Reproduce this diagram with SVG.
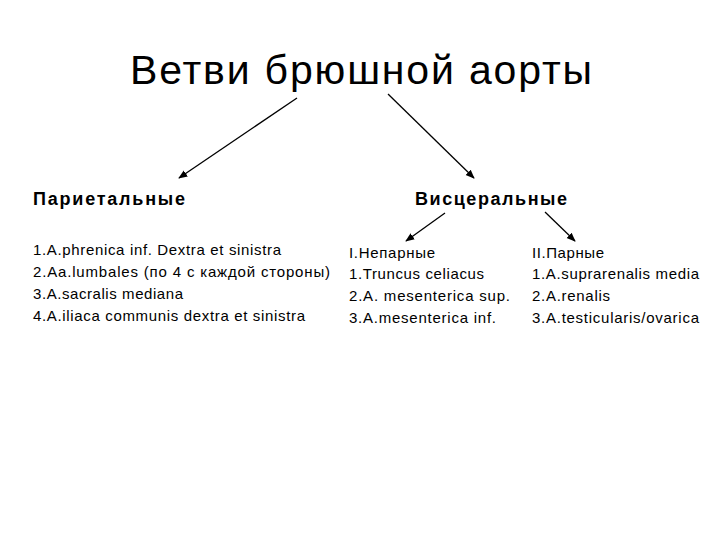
<svg xmlns="http://www.w3.org/2000/svg" width="720" height="540" viewBox="0 0 720 540">
<style>
text{font-family:"Liberation Sans",Arial,sans-serif;fill:#000}
.t{font-size:41px}
.h{font-size:18px;font-weight:bold}
.b{font-size:15px}
line{stroke:#000;stroke-width:1.3;marker-end:url(#a)}
</style>
<defs><marker id="a" viewBox="0 0 10 10" refX="9" refY="5" markerWidth="7" markerHeight="7" orient="auto"><path d="M0,1 L10,5 L0,9 z" fill="#000"/></marker></defs>
<rect width="720" height="540" fill="#fff"/>
<g id="title"><text class="t" x="361" y="84" text-anchor="middle" textLength="462">Ветви брюшной аорты</text></g>
<g id="parietal"><text class="h" x="33" y="205" textLength="152">Париетальные</text>
<text class="b" x="33" y="255" textLength="248">1.A.phrenica inf. Dextra et sinistra</text>
<text class="b" x="33" y="277" textLength="297">2.Aa.lumbales (по 4 с каждой стороны)</text>
<text class="b" x="33" y="299" textLength="150">3.A.sacralis mediana</text>
<text class="b" x="33" y="321" textLength="272">4.A.iliaca communis dextra et sinistra</text></g>
<g id="visceral"><text class="h" x="415" y="205" textLength="152">Висцеральные</text></g>
<g id="unpaired"><text class="b" x="349" y="258" textLength="86">I.Непарные</text>
<text class="b" x="349" y="279" textLength="135">1.Truncus celiacus</text>
<text class="b" x="349" y="301" textLength="161">2.A. mesenterica sup.</text>
<text class="b" x="349" y="323" textLength="147">3.A.mesenterica inf.</text></g>
<g id="paired"><text class="b" x="532" y="258" textLength="72">II.Парные</text>
<text class="b" x="532" y="279" textLength="167">1.A.suprarenalis media</text>
<text class="b" x="532" y="301" textLength="78">2.A.renalis</text>
<text class="b" x="532" y="323" textLength="167">3.A.testicularis/ovarica</text></g>
<g id="connectors">
<line x1="297" y1="98" x2="179" y2="178"/>
<line x1="388" y1="94" x2="474" y2="178"/>
<line x1="445" y1="213" x2="406" y2="241"/>
<line x1="545" y1="212" x2="575" y2="241"/>
</g>
</svg>
